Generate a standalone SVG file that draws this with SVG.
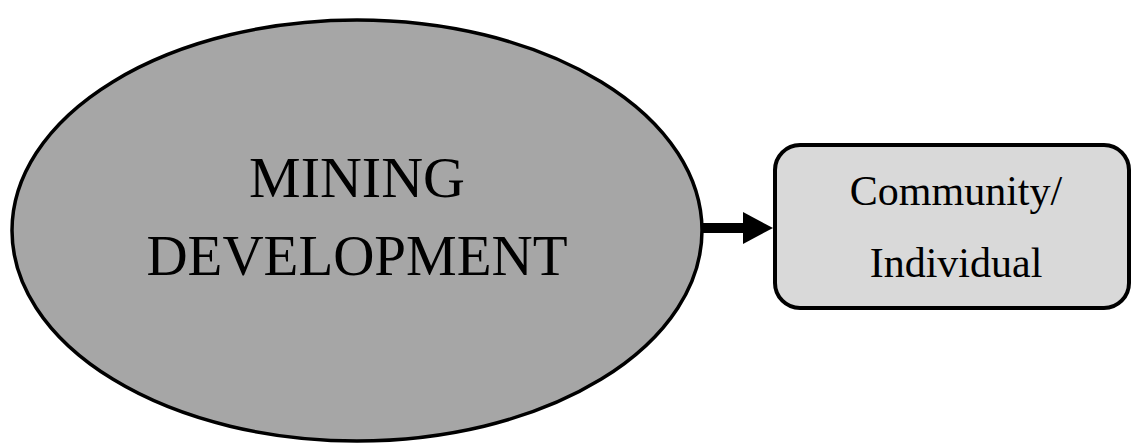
<svg xmlns="http://www.w3.org/2000/svg" width="1134" height="445" viewBox="0 0 1134 445">
  <style>
    .lbl { font-family: "Liberation Serif", "Times New Roman", serif; fill: #000; text-anchor: middle; }
    .conn { stroke: #000; stroke-width: 10; fill: none; }
  </style>
  <defs>
    <marker id="arrow" viewBox="0 0 30 32" markerWidth="30" markerHeight="32" refX="0" refY="16" markerUnits="userSpaceOnUse" orient="auto">
      <path d="M0,0 L30,16 L0,32 z" fill="#000"/>
    </marker>
  </defs>
  <rect width="1134" height="445" fill="#ffffff"/>
  <g id="connectors">
    <line class="conn" x1="700" y1="228" x2="743" y2="228" marker-end="url(#arrow)"/>
  </g>
  <g id="node-mining">
    <ellipse cx="357" cy="230.5" rx="345" ry="210.5" fill="#a6a6a6" stroke="#000" stroke-width="3.5"/>
    <text class="lbl" x="357" y="197" font-size="58">MINING</text>
    <text class="lbl" x="357" y="275" font-size="57">DEVELOPMENT</text>
  </g>
  <g id="node-community">
    <rect x="775" y="145" width="354" height="163" rx="25" ry="25" fill="#d9d9d9" stroke="#000" stroke-width="4"/>
    <text class="lbl" x="956" y="205" font-size="42">Community/</text>
    <text class="lbl" x="956" y="277" font-size="42">Individual</text>
  </g>
</svg>
